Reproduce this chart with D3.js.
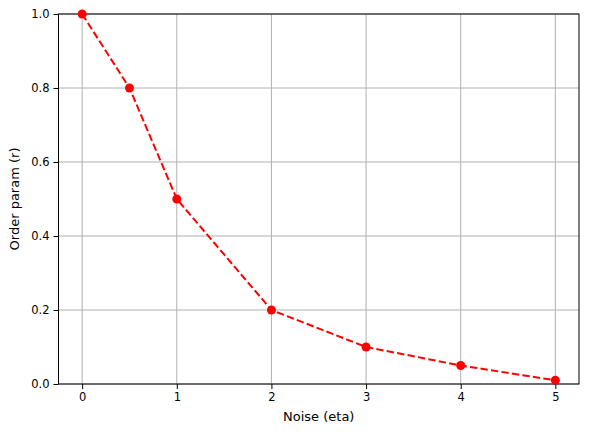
<!DOCTYPE html>
<html>
<head>
<meta charset="utf-8">
<script src="https://cdn.jsdelivr.net/npm/d3@7"></script>
<style>
  body { margin: 0; background: #fff; }
  text { font-family: "DejaVu Sans", sans-serif; fill: #000; }
</style>
</head>
<body>
<div id="chart"></div>
<script>
// noise values and order parameter
const noise = [0, 0.5, 1, 2, 3, 4, 5];
const orderParam = [1.0, 0.8, 0.5, 0.2, 0.1, 0.05, 0.01];
const xTicks = [0, 1, 2, 3, 4, 5];
const yTicks = [0.0, 0.2, 0.4, 0.6, 0.8, 1.0];

const width = 589, height = 434;
const margin = {top: 14, right: 10, bottom: 50, left: 58.5};

const svg = d3.select("#chart").append("svg")
    .attr("width", width)
    .attr("height", height);

const x = d3.scaleLinear().domain([-0.25, 5.25]).range([margin.left, width - margin.right]);
const y = d3.scaleLinear().domain([0, 1]).range([height - margin.bottom, margin.top]);

// grid
svg.append("g").selectAll("line").data(xTicks).join("line")
    .attr("x1", d => x(d)).attr("x2", d => x(d))
    .attr("y1", y(0)).attr("y2", y(1))
    .attr("stroke", "#b0b0b0").attr("stroke-width", 1);
svg.append("g").selectAll("line").data(yTicks).join("line")
    .attr("x1", x(-0.25)).attr("x2", x(5.25))
    .attr("y1", d => y(d)).attr("y2", d => y(d))
    .attr("stroke", "#b0b0b0").attr("stroke-width", 1);

// axes
const xAxis = svg.append("g")
    .attr("transform", `translate(0,${y(0)})`)
    .call(d3.axisBottom(x).tickValues(xTicks).tickFormat(d3.format("d")).tickSize(5).tickPadding(4));
const yAxis = svg.append("g")
    .attr("transform", `translate(${x(-0.25)},0)`)
    .call(d3.axisLeft(y).tickValues(yTicks).tickFormat(d3.format(".1f")).tickSize(5).tickPadding(4));
[xAxis, yAxis].forEach(g => {
  g.select(".domain").remove();
  g.selectAll("text").attr("font-size", 11.5).attr("font-family", "DejaVu Sans, sans-serif").attr("fill", "#000");
  g.selectAll("line").attr("stroke", "#000").attr("stroke-width", 1);
});

// frame
svg.append("rect")
    .attr("x", x(-0.25)).attr("y", y(1))
    .attr("width", x(5.25) - x(-0.25)).attr("height", y(0) - y(1))
    .attr("fill", "none").attr("stroke", "#000").attr("stroke-width", 1);

// line + markers
const pts = noise.map((d, i) => [d, orderParam[i]]);
svg.append("path")
    .datum(pts)
    .attr("d", d3.line().x(d => x(d[0])).y(d => y(d[1])))
    .attr("fill", "none").attr("stroke", "red")
    .attr("stroke-width", 2).attr("stroke-dasharray", "7.4,3.2");
svg.append("g").selectAll("circle").data(pts).join("circle")
    .attr("cx", d => x(d[0])).attr("cy", d => y(d[1]))
    .attr("r", 4.5).attr("fill", "red");

// labels
svg.append("text")
    .attr("x", (x(-0.25) + x(5.25)) / 2).attr("y", 421)
    .attr("text-anchor", "middle").attr("font-size", 13)
    .text("Noise (eta)");
svg.append("text")
    .attr("transform", `translate(19,${(y(0) + y(1)) / 2}) rotate(-90)`)
    .attr("text-anchor", "middle").attr("font-size", 13)
    .text("Order param (r)");
</script>
</body>
</html>
